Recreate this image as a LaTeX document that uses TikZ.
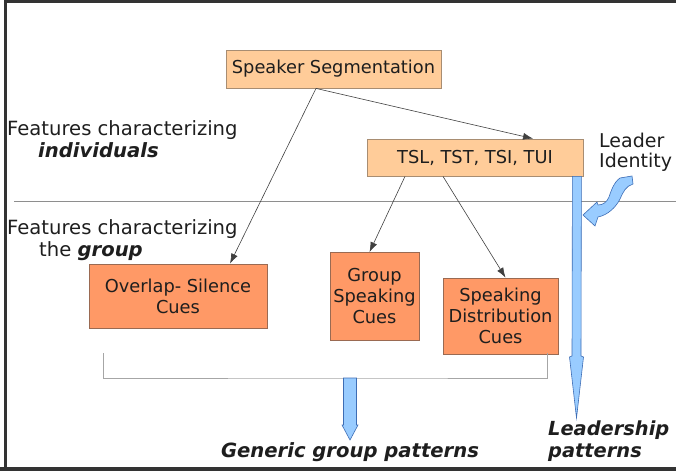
\documentclass[tikz,border=0pt]{standalone}
\usepackage{fontspec}
\setmainfont{DejaVu Sans}
\usepackage{xcolor}
\usepackage{tikz}
\usetikzlibrary{arrows.meta, positioning, calc}

\definecolor{segfill}{HTML}{FFCC99}
\definecolor{segline}{HTML}{A88D72}
\definecolor{cuefill}{HTML}{FF9966}
\definecolor{cueline}{HTML}{9A6A52}
\definecolor{flowfill}{HTML}{99CCFF}
\definecolor{flowline}{HTML}{3D6DB5}
\definecolor{rulegray}{HTML}{8E8E8E}
\definecolor{inkgray}{HTML}{1E1E1E}

\begin{document}
\begin{tikzpicture}[x=1pt, y=-1pt, text=inkgray,
    featblock/.style={rectangle, draw=segline, fill=segfill, line width=0.8pt, inner sep=0pt, align=center, font=\fontsize{17.8}{21}\selectfont},
    cueblock/.style={rectangle, draw=cueline, fill=cuefill, line width=0.8pt, inner sep=0pt, align=center, font=\fontsize{17.8}{21}\selectfont},
    sidetext/.style={anchor=west, align=left, inner sep=0pt, font=\fontsize{19.6}{22}\selectfont},
    line/.style={draw=black!75, line width=0.6pt, -{Latex[length=10pt,width=7pt]}},
    blockarrow/.style={draw=flowline, fill=flowfill, line width=0.6pt, line join=miter},
    sep/.style={draw=rulegray, line width=0.9pt}]

    \useasboundingbox (0,0) rectangle (676,471);
    \clip (0,0) rectangle (676,471);

    % frame
    \draw[black!80, line width=2.5pt] (690,1.5) -- (5.5,1.5) -- (5.5,468);
    \draw[black!80, line width=4pt] (0,469) -- (690,469);

    % separator between the two levels
    \draw[sep] (14,201) -- (690,201);

    \node [featblock, minimum width=215pt, minimum height=38pt] (seg) at (333.5,69) {Speaker Segmentation};
    \node [featblock, minimum width=216pt, minimum height=37pt] (tsl) at (475,157.5) {TSL, TST, TSI, TUI};
    \node [cueblock, minimum width=178pt, minimum height=64pt] (ovl) at (178,296) {Overlap- Silence\\Cues};
    \node [cueblock, minimum width=89pt, minimum height=88pt] (grp) at (374.5,296.5) {Group\\Speaking\\Cues};
    \node [cueblock, minimum width=115pt, minimum height=76pt] (dist) at (500.5,316) {Speaking\\Distribution\\Cues};

    \node [sidetext] (indiv) at (7,139) {Features characterizing\\\hspace*{31pt}\textbf{\textit{individuals}}};
    \node [sidetext] (grpfeat) at (7,240) {Features characterizing\\\hspace*{32pt}the \textbf{\textit{group}}};
    \node [sidetext, font=\fontsize{19}{20.5}\selectfont] (leader) at (599,152.5) {Leader\\Identity};
    \node [sidetext, font=\bfseries\itshape\fontsize{19.4}{22}\selectfont] (leadpat) at (548,441) {Leadership\\patterns};
    \node [inner sep=0pt, font=\bfseries\itshape\fontsize{19.6}{22}\selectfont] (genpat) at (350,452) {Generic group patterns};

    \path [line] ([xshift=-17.5pt]seg.south) -- ([xshift=52pt]ovl.north);
    \path [line] ([xshift=-17.5pt]seg.south) -- ([xshift=58pt]tsl.north);
    \path [line] ([xshift=-70pt]tsl.south) -- ([xshift=-5pt]grp.north);
    \path [line] ([xshift=-32pt]tsl.south) -- ([xshift=5pt]dist.north);

    % bracket gathering the group cues
    \coordinate (brl) at (103,353);
    \coordinate (brr) at (547,353);
    \coordinate (gtop) at (350,378);
    \coordinate (gtip) at (350,440);
    \draw [draw=black!35, line width=0.8pt] (brl) |- (gtop) -| (brr);

    \draw [blockarrow] ($(gtop)+(-6.5,0)$) -- ($(gtip)+(-6.5,-15)$) -- ($(gtip)+(-8,-15)$) -- (gtip)
        -- ($(gtip)+(8,-15)$) -- ($(gtip)+(6.5,-15)$) -- ($(gtop)+(6.5,0)$) -- cycle;

    % leadership flow
    \coordinate (ltop) at ([xshift=-6.5pt]tsl.south east);
    \coordinate (ltip) at (576.5,418);
    \draw [blockarrow] ($(ltop)+(-4.5,0)$) -- ($(ltip)+(-4.5,-62)$) -- ($(ltip)+(-7,-61)$) -- (ltip)
        -- ($(ltip)+(7,-61)$) -- ($(ltip)+(4.5,-62)$) -- ($(ltop)+(4.5,0)$) -- cycle;

    % leader identity input
    \draw [blockarrow] (620,178) .. controls (614,182) and (611,191) .. (609,197)
        .. controls (607,202) and (603,205) .. (598,205) -- (597,202) -- (583,215) -- (595,226)
        -- (598,217) .. controls (608,215) and (616,207) .. (620,199)
        .. controls (623,192) and (626,186) .. (633,184) -- (632,176) -- cycle;
\end{tikzpicture}
\end{document}
